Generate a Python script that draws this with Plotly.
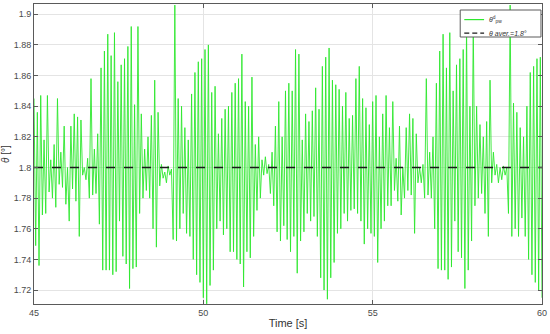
import numpy as np
import plotly.graph_objects as go

# Peaks (local maxima) and troughs (local minima) of theta_pw, read cycle by cycle (~10 Hz)
peaks = [
    # 45.0 - 47.9 s
    1.845, 1.836, 1.847, 1.818, 1.847, 1.805, 1.815, 1.845, 1.810, 1.827,
    1.800, 1.827, 1.835, 1.833, 1.831, 1.800, 1.806, 1.858, 1.812, 1.822,
    1.865, 1.876, 1.887, 1.873, 1.888, 1.856, 1.867, 1.871, 1.879, 1.892,
    # 47.9 - 51.7 s
    1.841, 1.892, 1.835, 1.812, 1.820, 1.834, 1.857, 1.836, 1.802, 1.797,
    1.801, 1.799, 1.906, 1.845, 1.840, 1.826, 1.818, 1.848, 1.862, 1.869,
    1.871, 1.877, 1.880, 1.849, 1.853, 1.822, 1.832, 1.838, 1.840, 1.849,
    1.855, 1.858, 1.874, 1.843, 1.840, 1.859, 1.815, 1.820,
    # 51.7 - 55.5 s
    1.805, 1.807, 1.802, 1.810, 1.827, 1.843, 1.820, 1.850, 1.855, 1.850,
    1.877, 1.874, 1.818, 1.835, 1.830, 1.837, 1.852, 1.838, 1.866, 1.872,
    1.878, 1.857, 1.854, 1.851, 1.840, 1.849, 1.832, 1.834, 1.858, 1.866,
    1.845, 1.839, 1.828, 1.843, 1.847, 1.820, 1.835, 1.847,
    # 55.5 - 60 s
    1.826, 1.843, 1.806, 1.827, 1.800, 1.826, 1.835, 1.832, 1.822, 1.800,
    1.802, 1.858, 1.810, 1.820, 1.855, 1.876, 1.887, 1.865, 1.888, 1.850,
    1.867, 1.871, 1.877, 1.893, 1.840, 1.893, 1.840, 1.828, 1.820, 1.830,
    1.857, 1.810, 1.802, 1.800, 1.801, 1.800, 1.906, 1.842, 1.836, 1.826,
    1.820, 1.840, 1.862, 1.866, 1.871, 1.872,
]
troughs = [
    1.749, 1.736, 1.769, 1.770, 1.784, 1.780, 1.774, 1.789, 1.787, 1.776,
    1.765, 1.786, 1.778, 1.755, 1.795, 1.792, 1.780, 1.782, 1.783, 1.763,
    1.733, 1.733, 1.733, 1.730, 1.732, 1.765, 1.742, 1.737, 1.721, 1.734,
    1.735, 1.770, 1.780, 1.785, 1.780, 1.760, 1.748, 1.788, 1.793, 1.790,
    1.795, 1.753, 1.752, 1.760, 1.770, 1.757, 1.755, 1.740, 1.730, 1.725,
    1.715, 1.711, 1.723, 1.733, 1.760, 1.765, 1.756, 1.760, 1.745, 1.745,
    1.740, 1.737, 1.722, 1.745, 1.741, 1.755, 1.772, 1.780,
    1.795, 1.796, 1.783, 1.775, 1.758, 1.752, 1.762, 1.753, 1.745, 1.755,
    1.731, 1.752, 1.758, 1.770, 1.765, 1.768, 1.755, 1.728, 1.720, 1.714,
    1.728, 1.738, 1.757, 1.760, 1.770, 1.765, 1.772, 1.773, 1.770, 1.765,
    1.750, 1.760, 1.757, 1.755, 1.738, 1.760, 1.765, 1.775,
    1.775, 1.785, 1.778, 1.769, 1.780, 1.785, 1.782, 1.757, 1.790, 1.790,
    1.780, 1.782, 1.780, 1.760, 1.734, 1.733, 1.733, 1.727, 1.735, 1.765,
    1.745, 1.741, 1.721, 1.733, 1.752, 1.775, 1.780, 1.783, 1.770, 1.755,
    1.790, 1.795, 1.790, 1.792, 1.795, 1.770, 1.755, 1.760, 1.755, 1.767,
    1.755, 1.740, 1.730, 1.725, 1.720, 1.715,
]
theta_avg = 1.8
t_start, t_end = 45, 60
x_ticks = [45, 50, 55, 60]
y_ticks = [1.72, 1.74, 1.76, 1.78, 1.8, 1.82, 1.84, 1.86, 1.88, 1.9]
y_ticklabels = ["1.72", "1.74", "1.76", "1.78", "1.8", "1.82", "1.84", "1.86", "1.88", "1.9"]
legend_labels = ["<i>θ</i><sup>d</sup><sub>pw</sub>", "<i>θ aver.=1.8°</i>"]

GREEN = "#2ee82e"
DARK = "#1a1a1a"

# interleave extrema into a single sampled signal
theta = []
for p, q in zip(peaks, troughs):
    theta.append(p)
    theta.append(q)
time = np.linspace(t_start, t_end, len(theta))

fig = go.Figure()
fig.add_trace(go.Scatter(
    x=time, y=theta, mode="lines",
    line=dict(color=GREEN, width=0.9),
    name=legend_labels[0], showlegend=False,
))
fig.add_trace(go.Scatter(
    x=[t_start, t_end], y=[theta_avg, theta_avg], mode="lines",
    line=dict(color=DARK, width=1.4, dash="dash"),
    name=legend_labels[1], showlegend=False,
))

axis_common = dict(
    showline=True, linecolor="#5a5a5a", linewidth=1, mirror="ticks",
    ticks="inside", ticklen=4, tickcolor="#5a5a5a",
    showgrid=True, gridcolor="#e4e4e4", gridwidth=1,
    zeroline=False,
    tickfont=dict(family="Liberation Sans, Arial, sans-serif", size=9, color="#4a4a4a"),
)

# compact MATLAB-style legend box (paper coordinates)
shapes = [
    dict(type="rect", xref="paper", yref="paper", x0=0.839, x1=0.998, y0=0.890, y1=0.980,
         line=dict(color="#5a5a5a", width=1), fillcolor="white", layer="above"),
    dict(type="line", xref="paper", yref="paper", x0=0.847, x1=0.886, y0=0.948, y1=0.948,
         line=dict(color=GREEN, width=1.2), layer="above"),
    dict(type="line", xref="paper", yref="paper", x0=0.847, x1=0.886, y0=0.903, y1=0.903,
         line=dict(color=DARK, width=1.3, dash="5px,3px"), layer="above"),
]
annotations = [
    dict(xref="paper", yref="paper", x=0.892, y=0.948, text=legend_labels[0],
         showarrow=False, xanchor="left", yanchor="middle",
         font=dict(size=7, color="#333333")),
    dict(xref="paper", yref="paper", x=0.892, y=0.903, text=legend_labels[1],
         showarrow=False, xanchor="left", yanchor="middle",
         font=dict(size=7, color="#333333")),
]

fig.update_layout(
    width=550, height=334,
    margin=dict(l=33, r=7, t=3, b=30),
    paper_bgcolor="white", plot_bgcolor="white",
    font=dict(family="Liberation Sans, Arial, sans-serif", color="#333333"),
    xaxis=dict(range=[t_start, t_end], tickvals=x_ticks,
               title=dict(text="Time [s]", font=dict(size=11, color="#333333"), standoff=2),
               **axis_common),
    yaxis=dict(range=[1.7109, 1.9067], tickvals=y_ticks, ticktext=y_ticklabels,
               title=dict(text="<i>θ</i> [°]", font=dict(size=10, color="#333333"), standoff=4),
               **axis_common),
    shapes=shapes,
    annotations=annotations,
    showlegend=False,
)

fig.write_html("out.html", config={"displayModeBar": False},
               post_script="document.body.style.margin='0px';")
